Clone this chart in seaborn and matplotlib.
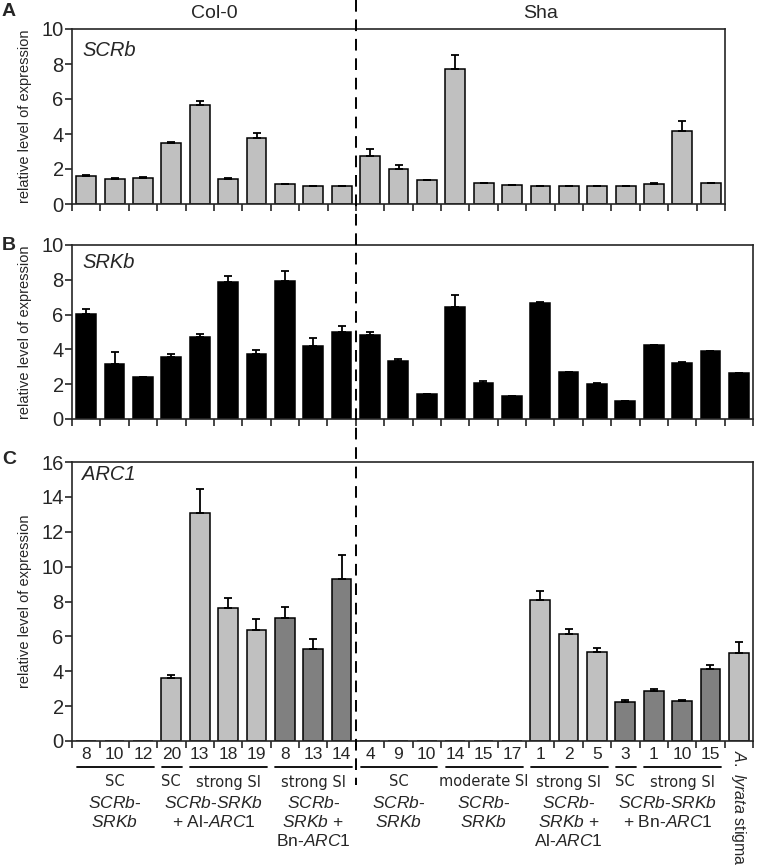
import numpy as np
import pandas as pd
import seaborn as sns
import matplotlib.pyplot as plt
import matplotlib.transforms as mtransforms
from matplotlib.lines import Line2D

# values
col_lines = ['8', '10', '12', '20', '13', '18', '19', '8', '13', '14']
sha_lines = ['4', '9', '10', '14', '15', '17', '1', '2', '5', '3', '1', '10', '15']
lyrata = ['']

scrb_mean = [1.62, 1.43, 1.50, 3.46, 5.65, 1.44, 3.78, 1.14, 1.03, 1.03,
             2.76, 2.02, 1.35, 7.70, 1.18, 1.06, 1.03, 1.03, 1.03, 1.03, 1.16, 4.18, 1.18]
scrb_err = [0.02, 0.08, 0.02, 0.10, 0.25, 0.05, 0.25, 0.02, 0.01, 0.01,
            0.38, 0.20, 0.03, 0.80, 0.02, 0.01, 0.01, 0.01, 0.01, 0.01, 0.02, 0.59, 0.03]

srkb_mean = [6.04, 3.17, 2.39, 3.59, 4.70, 7.88, 3.71, 7.95, 4.21, 5.01,
             4.82, 3.33, 1.43, 6.46, 2.06, 1.30, 6.67, 2.68, 2.03, 1.01, 4.23, 3.23, 3.90, 2.62]
srkb_err = [0.27, 0.67, 0.02, 0.14, 0.21, 0.34, 0.27, 0.54, 0.44, 0.31,
            0.17, 0.09, 0.03, 0.65, 0.14, 0.03, 0.03, 0.03, 0.02, 0.02, 0.03, 0.02, 0.03, 0.02]

arc1_mean = [0, 0, 0, 3.62, 13.05, 7.61, 6.36, 7.05, 5.25, 9.30,
             0, 0, 0, 0, 0, 0, 8.09, 6.15, 5.08, 2.23, 2.88, 2.28, 4.14, 5.02]
arc1_err = [0, 0, 0, 0.15, 1.40, 0.61, 0.61, 0.65, 0.58, 1.39,
            0, 0, 0, 0, 0, 0, 0.53, 0.27, 0.25, 0.11, 0.13, 0.08, 0.23, 0.65]
arc1_source = ['-'] * 3 + ['Al'] * 4 + ['Bn'] * 3 + ['-'] * 6 + ['Al'] * 3 + ['Bn'] * 4 + ['Al']

LIGHT = '#c0c0c0'
DARK = '#808080'
source_color = {'-': LIGHT, 'Al': LIGHT, 'Bn': DARK}

sns.set_style('ticks')
plt.rcParams['font.family'] = ['Liberation Sans', 'DejaVu Sans']
plt.rcParams['mathtext.fontset'] = 'custom'
plt.rcParams['mathtext.rm'] = 'Liberation Sans'
plt.rcParams['mathtext.it'] = 'Liberation Sans:italic'

W, H = 771, 866
fig = plt.figure(figsize=(W / 100, H / 100), dpi=100)


def box(left, top, right, bottom):
    return [left / W, 1 - bottom / H, (right - left) / W, (bottom - top) / H]


axA = fig.add_axes(box(72, 29, 725, 204))
axB = fig.add_axes(box(72, 245, 753, 419))
axC = fig.add_axes(box(72, 462, 753, 741))

all_lines = col_lines + sha_lines + lyrata


def panel(ax, means, errs, colors, ymax, gene, gene_dy):
    n = len(means)
    ids = [f'{i}' for i in range(n)]
    df = pd.DataFrame({'sample': ids, 'value': means})
    sns.barplot(data=df, x='sample', y='value', hue='sample', order=ids,
                palette=dict(zip(ids, colors)), legend=False, width=0.7,
                edgecolor='black', linewidth=1.1, saturation=1, ax=ax)
    x = np.arange(n)
    e = np.array(errs)
    m = e > 0
    ax.errorbar(x[m], np.array(means)[m], yerr=[np.zeros(m.sum()), e[m]], fmt='none',
                ecolor='black', elinewidth=1.3, capsize=3, capthick=1.3, zorder=5)
    ax.set_xlim(-0.5, n - 0.5)
    ax.set_ylim(0, ymax)
    ax.set_yticks(np.arange(0, ymax + 1, 2))
    ax.set_xticks(np.arange(n + 1) - 0.5)
    ax.set_xticklabels([])
    ax.tick_params(axis='both', direction='out', length=5, width=1.2, labelsize=14.5, pad=1)
    ax.set_xlabel('')
    ax.set_ylabel('relative level of expression', fontsize=10.5)
    ax.yaxis.set_label_coords(-40 / (ax.get_position().width * W), 0.5)
    for s in ax.spines.values():
        s.set_visible(True)
        s.set_linewidth(1.2)
    ax.annotate(gene, xy=(0, 1), xycoords='axes fraction', xytext=(10, gene_dy),
                textcoords='offset pixels', fontsize=14.5, style='italic', va='center')


panel(axA, scrb_mean, scrb_err, [LIGHT] * len(scrb_mean), 10, 'SCRb', -21)
panel(axB, srkb_mean, srkb_err, ['black'] * len(srkb_mean), 10, 'SRKb', -18)
panel(axC, arc1_mean, arc1_err, [source_color[s] for s in arc1_source], 16, 'ARC1', -13)

# line numbers under panel C
axC.set_xticks(np.arange(len(all_lines)), minor=True)
axC.set_xticklabels(all_lines, minor=True, fontsize=12.5)
axC.tick_params(axis='x', which='minor', length=0, pad=4)

# panel letters
for ax, letter, y in [(axA, 'A', 12), (axB, 'B', 245), (axC, 'C', 460)]:
    fig.text(9 / W, 1 - y / H, letter, fontsize=14, fontweight='bold', ha='center', va='center')

# Col-0 / Sha headers
trA = mtransforms.blended_transform_factory(axA.transData, fig.transFigure)
axA.text(4.5, 1 - 14 / H, 'Col-0', transform=trA, ha='center', va='center', fontsize=14)
axA.text(16, 1 - 14 / H, 'Sha', transform=trA, ha='center', va='center', fontsize=14)

# group annotations below panel C
trC = mtransforms.blended_transform_factory(axC.transData, fig.transFigure)


def it(s):
    return r'$\mathit{' + s + '}$'


underlines = [(0, 2), (3, 3), (4, 6), (7, 9), (10, 12), (13, 15), (16, 18), (19, 19), (20, 22)]
for a, b in underlines:
    axC.add_line(Line2D([a - 0.5 + 0.17, b + 0.5 - 0.12], [1 - 767 / H] * 2, transform=trC,
                        color='black', lw=1.3, clip_on=False))

line_rows = [782, 803, 822, 841]
group_text = [
    (1, ['SC', it('SCRb') + '-', it('SRKb')]),
    (3, ['SC']),
    (5, ['strong SI']),
    (4.5, [None, it('SCRb') + '-' + it('SRKb'), '+ Al-' + it('ARC1')]),
    (8, ['strong SI', it('SCRb') + '-', it('SRKb') + ' +', 'Bn-' + it('ARC1')]),
    (11, ['SC', it('SCRb') + '-', it('SRKb')]),
    (14, ['moderate SI', it('SCRb') + '-', it('SRKb')]),
    (17, ['strong SI', it('SCRb') + '-', it('SRKb') + ' +', 'Al-' + it('ARC1')]),
    (19, ['SC']),
    (21, ['strong SI']),
    (20.5, [None, it('SCRb') + '-' + it('SRKb'), '+ Bn-' + it('ARC1')]),
]
for xc, rows in group_text:
    for i, t in enumerate(rows):
        if t is None:
            continue
        if i == 0:
            style = dict(fontfamily='DejaVu Sans', fontsize=10.5)
        else:
            style = dict(fontsize=12.5)
        axC.text(xc, 1 - line_rows[i] / H, t, transform=trC, ha='center', va='center', **style)

axC.text(23, 1 - 750 / H, it(r'A.\ lyrata') + ' stigma', transform=trC, rotation=270,
         ha='center', va='top', fontsize=11.5)

# dashed separator between Col-0 and Sha
xd = axB.transData.transform((9.5, 0))[0]
xf = fig.transFigure.inverted().transform((xd, 0))[0]
fig.add_artist(Line2D([xf, xf], [1.0, 1 - 785 / H], transform=fig.transFigure,
                      color='black', lw=1.4, ls=(0, (6, 4))))

plt.savefig('out.png', dpi=100)
